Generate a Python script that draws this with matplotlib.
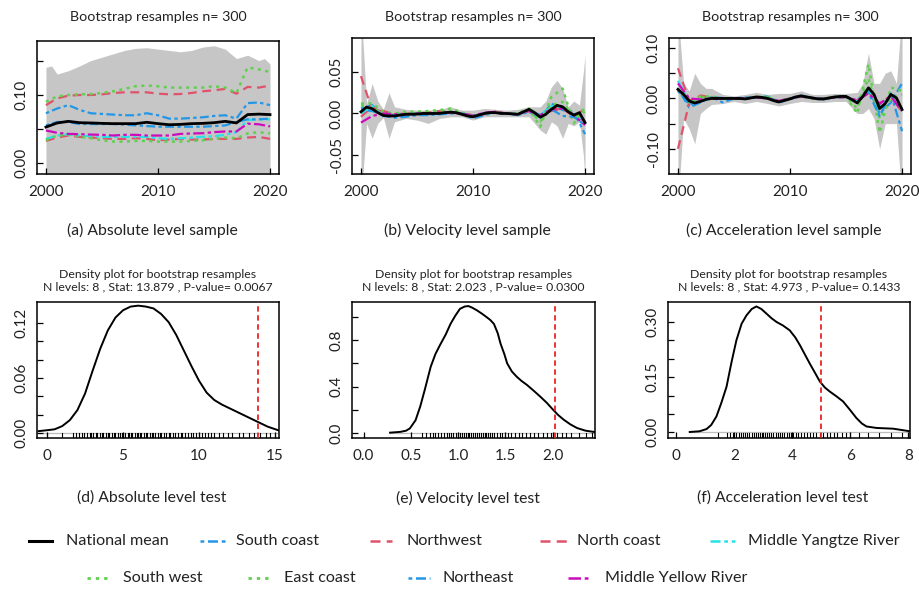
import matplotlib
matplotlib.use("Agg")
import matplotlib.pyplot as plt
from matplotlib.lines import Line2D
import matplotlib.transforms as mtrans

plt.rcParams['font.family'] = ['Lato', 'DejaVu Sans']

# ---------------- data ----------------
years = list(range(2000, 2021))
half_years = [2000 + 0.5 * i for i in range(41)]

# (a) absolute level
abs_national = [0.0525, 0.0586, 0.061, 0.059, 0.0586, 0.058, 0.0576, 0.0576, 0.0576, 0.0596, 0.0576, 0.056, 0.0565, 0.0576, 0.058, 0.059, 0.061, 0.0586, 0.071, 0.0717, 0.071]
abs_south_coast = [0.073, 0.080, 0.085, 0.078, 0.073, 0.072, 0.071, 0.070, 0.070, 0.073, 0.070, 0.065, 0.065, 0.066, 0.067, 0.069, 0.070, 0.065, 0.088, 0.089, 0.085]
abs_northwest = [0.085, 0.095, 0.099, 0.100, 0.100, 0.101, 0.103, 0.104, 0.104, 0.104, 0.102, 0.101, 0.1015, 0.103, 0.1055, 0.107, 0.109, 0.102, 0.112, 0.111, 0.114]
abs_north_coast = [0.032, 0.037, 0.040, 0.038, 0.037, 0.036, 0.035, 0.035, 0.036, 0.035, 0.033, 0.034, 0.035, 0.034, 0.034, 0.035, 0.035, 0.035, 0.037, 0.038, 0.035]
abs_mid_yangtze = [0.035, 0.040, 0.042, 0.040, 0.039, 0.038, 0.038, 0.038, 0.038, 0.038, 0.036, 0.035, 0.036, 0.037, 0.038, 0.039, 0.041, 0.045, 0.063, 0.064, 0.064]
abs_south_west = [0.090, 0.098, 0.100, 0.101, 0.1015, 0.103, 0.1055, 0.109, 0.113, 0.114, 0.113, 0.111, 0.111, 0.111, 0.111, 0.113, 0.111, 0.103, 0.141, 0.138, 0.134]
abs_east_coast = [0.033, 0.040, 0.041, 0.038, 0.036, 0.033, 0.031, 0.031, 0.032, 0.032, 0.031, 0.031, 0.031, 0.032, 0.033, 0.035, 0.037, 0.036, 0.043, 0.045, 0.043]
abs_northeast = [0.055, 0.060, 0.060, 0.057, 0.057, 0.057, 0.057, 0.056, 0.055, 0.054, 0.053, 0.053, 0.053, 0.053, 0.053, 0.054, 0.055, 0.060, 0.064, 0.064, 0.065]
abs_mid_yellow = [0.0475, 0.044, 0.0424, 0.042, 0.0414, 0.041, 0.040, 0.041, 0.041, 0.040, 0.040, 0.040, 0.0424, 0.043, 0.0434, 0.045, 0.046, 0.046, 0.0576, 0.0566, 0.0535]

abs_band_x = [2000, 2000.5, 2001, 2002, 2003, 2004, 2005, 2006, 2007, 2008, 2009, 2010, 2011, 2012, 2013, 2014, 2015, 2016, 2017, 2018, 2019, 2019.5, 2020]
abs_band_hi = [0.141, 0.143, 0.131, 0.136, 0.143, 0.151, 0.156, 0.161, 0.166, 0.169, 0.170, 0.168, 0.166, 0.164, 0.166, 0.171, 0.173, 0.168, 0.154, 0.159, 0.151, 0.154, 0.146]
abs_band_lo = [-0.05] * 23

# (b) velocity level (national mean on a half-year grid)
vel_national = [0.002, 0.0077, 0.0057, 0.001, -0.0024, -0.003, -0.003, -0.002, -0.001, -0.001, -0.0008, 0.0, 0.0, 0.0, 0.0, 0.001, 0.0015, 0.001, -0.001, -0.003, -0.004, -0.002, 0.0, 0.001, 0.001, 0.0, 0.0, -0.0005, -0.001, 0.002, 0.005, 0.001, -0.0045, -0.001, 0.005, 0.0098, 0.008, 0.002, -0.002, 0.001, -0.011]
vel_south_coast = [0.006, 0.010, -0.003, -0.005, -0.004, -0.002, -0.002, -0.001, 0.0, 0.0, -0.006, -0.002, 0.001, 0.0, -0.002, 0.002, -0.006, 0.012, 0.004, 0.002, -0.025]
vel_northwest = [0.045, 0.004, 0.003, -0.001, 0.0, 0.0, 0.001, 0.003, 0.001, 0.0, -0.002, -0.001, 0.002, 0.0, -0.001, 0.003, -0.002, 0.003, 0.006, -0.004, 0.006]
vel_north_coast = [-0.004, 0.008, 0.0, -0.002, 0.0, 0.0, 0.0, 0.001, 0.001, 0.0, -0.003, 0.0, 0.002, 0.0, -0.001, 0.004, -0.003, 0.007, 0.005, -0.001, -0.010]
vel_mid_yangtze = [0.0, 0.009, -0.003, -0.002, -0.001, 0.0, 0.0, 0.0, 0.001, 0.0, -0.003, 0.0, 0.001, 0.0, -0.001, 0.004, -0.002, 0.009, 0.008, 0.0, -0.010]
vel_south_west = [0.012, 0.012, 0.002, 0.0, 0.002, 0.002, 0.003, 0.004, 0.006, 0.001, -0.003, 0.0, 0.002, 0.0, 0.0, 0.006, -0.016, 0.020, 0.030, -0.012, 0.008]
vel_east_coast = [0.010, 0.006, 0.0, -0.001, 0.0, 0.0, 0.001, 0.002, 0.003, 0.0, -0.003, 0.0, 0.001, 0.0, -0.001, 0.004, -0.010, 0.010, 0.014, -0.004, 0.002]
vel_northeast = [0.004, 0.003, -0.002, -0.002, -0.001, 0.0, -0.001, 0.0, 0.001, 0.0, -0.003, 0.0, 0.001, 0.0, -0.001, 0.003, -0.002, 0.005, -0.003, -0.004, -0.014]
vel_mid_yellow = [-0.011, -0.003, 0.0, -0.001, -0.001, 0.0, 0.0, 0.001, 0.001, 0.0, -0.003, 0.001, 0.002, 0.0, -0.001, 0.003, -0.002, 0.005, 0.006, -0.002, -0.014]

band_x = [2000, 2000.15, 2000.5, 2001, 2001.5, 2002, 2002.5, 2003, 2004, 2005, 2006, 2007, 2008, 2009, 2010, 2011, 2012, 2013, 2014, 2015, 2016, 2016.5, 2017, 2017.5, 2018, 2018.5, 2019, 2019.5, 2019.85, 2020]
vel_band_hi = [0.095, 0.095, 0.012, 0.036, 0.015, 0.005, 0.025, 0.008, 0.005, 0.004, 0.004, 0.005, 0.008, 0.004, 0.004, 0.006, 0.005, 0.004, 0.005, 0.008, 0.008, 0.015, 0.032, 0.040, 0.030, 0.008, 0.015, 0.010, 0.050, 0.070]
vel_band_lo = [-0.08, -0.08, -0.012, -0.030, -0.012, -0.005, -0.030, -0.010, -0.006, -0.008, -0.012, -0.006, -0.004, -0.004, -0.008, -0.004, -0.004, -0.004, -0.004, -0.004, -0.020, -0.025, -0.010, -0.015, -0.030, -0.012, -0.015, -0.010, -0.050, -0.080]

# (c) acceleration level (national mean on a half-year grid)
acc_national = [0.018, 0.008, -0.005, -0.009, -0.006, -0.002, 0.0, 0.0, 0.0, 0.0, 0.0, 0.0, -0.001, 0.001, 0.003, 0.002, 0.0, -0.004, -0.007, -0.004, -0.001, 0.003, 0.005, 0.003, 0.001, -0.001, -0.001, 0.001, 0.003, 0.004, 0.004, -0.002, -0.009, 0.004, 0.021, 0.008, -0.020, -0.010, 0.008, 0.001, -0.022]
acc_south_coast = [0.020, -0.018, -0.008, 0.003, -0.008, 0.0, 0.002, 0.002, 0.004, -0.009, 0.0, 0.006, 0.0, -0.002, 0.003, 0.002, -0.004, 0.020, -0.030, -0.008, 0.030]
acc_northwest = [0.060, -0.004, 0.004, 0.0, 0.0, 0.0, -0.001, 0.002, 0.0, -0.005, 0.0, 0.004, 0.0, 0.0, 0.002, 0.003, -0.004, 0.012, -0.010, 0.004, -0.020]
acc_north_coast = [-0.100, -0.010, 0.006, 0.002, 0.0, 0.0, 0.0, 0.002, 0.0, -0.005, 0.0, 0.004, 0.0, 0.0, 0.002, 0.003, -0.005, 0.015, -0.012, 0.006, -0.028]
acc_mid_yangtze = [0.035, -0.006, -0.004, 0.0, 0.0, 0.0, -0.001, 0.003, 0.0, -0.006, 0.0, 0.005, 0.001, -0.001, 0.003, 0.004, -0.006, 0.018, -0.018, 0.006, -0.020]
acc_south_west = [0.020, -0.010, 0.004, 0.004, 0.0, 0.0, 0.0, 0.003, 0.003, -0.006, 0.0, 0.005, 0.0, 0.0, 0.002, 0.004, -0.030, 0.068, -0.068, 0.022, 0.015]
acc_east_coast = [0.016, -0.008, 0.002, 0.002, 0.0, 0.0, 0.0, 0.002, 0.002, -0.005, 0.0, 0.004, 0.0, 0.0, 0.002, 0.003, -0.020, 0.040, -0.040, 0.0, 0.008]
acc_northeast = [0.015, -0.012, -0.006, 0.002, 0.001, 0.0, -0.001, 0.002, 0.001, -0.006, 0.0, 0.004, 0.001, -0.001, 0.002, 0.003, -0.006, 0.012, -0.035, 0.010, -0.065]
acc_mid_yellow = [0.030, 0.0, -0.002, 0.0, 0.0, 0.0, 0.0, 0.002, 0.0, -0.005, 0.0, 0.004, 0.001, -0.001, 0.002, 0.003, -0.004, 0.010, -0.010, 0.004, -0.025]

acc_band_hi = [0.13, 0.13, 0.030, 0.015, 0.050, 0.030, 0.020, 0.020, 0.008, 0.005, 0.008, 0.012, 0.008, 0.010, 0.010, 0.015, 0.008, 0.008, 0.010, 0.010, 0.012, 0.030, 0.090, 0.030, 0.030, 0.050, 0.055, 0.030, 0.13, 0.13]
acc_band_lo = [-0.16, -0.16, -0.040, -0.060, -0.090, -0.030, -0.020, -0.012, -0.010, -0.006, -0.010, -0.006, -0.010, -0.015, -0.010, -0.006, -0.008, -0.008, -0.006, -0.006, -0.030, -0.030, -0.020, -0.040, -0.100, -0.050, -0.050, -0.050, -0.16, -0.16]

# density panels
dens_abs_x = [-0.55, 0, 0.5, 1, 1.5, 2, 2.5, 3, 3.5, 4, 4.5, 5, 5.5, 6, 6.5, 7, 7.5, 8, 8.5, 9, 9.5, 10, 10.5, 11, 11.5, 12, 12.5, 13, 13.5, 14, 14.5, 15.2]
dens_abs_y = [0.002, 0.003, 0.004, 0.0075, 0.014, 0.025, 0.043, 0.068, 0.092, 0.112, 0.126, 0.134, 0.138, 0.139, 0.138, 0.136, 0.130, 0.121, 0.107, 0.090, 0.073, 0.057, 0.044, 0.036, 0.031, 0.027, 0.023, 0.019, 0.015, 0.011, 0.007, 0.003]
rug_abs = [0.0, 1.0, 1.7, 1.9, 2.1, 2.3, 2.4, 2.6, 2.8, 2.9, 3.0, 3.2, 3.3, 3.5, 3.6, 3.7, 3.9, 4.0, 4.1, 4.3, 4.4, 4.5, 4.7, 4.8, 4.9, 5.0, 5.1, 5.3, 5.4, 5.5, 5.6, 5.8, 5.9, 6.0, 6.1, 6.2, 6.4, 6.5, 6.6, 6.8, 6.9, 7.0, 7.1, 7.3, 7.4, 7.5, 7.7, 7.8, 8.0, 8.1, 8.3, 8.4, 8.6, 8.8, 8.9, 9.1, 9.3, 9.5, 9.6, 9.8, 10.0, 10.2, 10.4, 10.6, 10.8, 11.0, 11.3, 11.6, 11.9, 12.2, 12.6, 12.9, 13.3, 13.6, 14.0, 14.4, 14.7, 15.0]
stat_abs = 13.879

dens_vel_x = [0.28, 0.39, 0.45, 0.49, 0.55, 0.60, 0.65, 0.71, 0.76, 0.81, 0.87, 0.92, 0.97, 1.02, 1.07, 1.11, 1.15, 1.20, 1.25, 1.30, 1.34, 1.38, 1.42, 1.45, 1.49, 1.52, 1.57, 1.62, 1.67, 1.73, 1.80, 1.87, 1.94, 2.00, 2.06, 2.12, 2.19, 2.26, 2.35, 2.45]
dens_vel_y = [0.003, 0.010, 0.020, 0.040, 0.110, 0.230, 0.380, 0.570, 0.680, 0.760, 0.850, 0.940, 1.010, 1.070, 1.090, 1.094, 1.080, 1.057, 1.030, 1.000, 0.975, 0.940, 0.860, 0.770, 0.680, 0.600, 0.530, 0.486, 0.450, 0.414, 0.365, 0.314, 0.260, 0.206, 0.155, 0.114, 0.074, 0.043, 0.020, 0.008]
rug_vel = [0.62, 0.66, 0.70, 0.73, 0.76, 0.79, 0.82, 0.85, 0.88, 0.90, 0.93, 0.95, 0.98, 1.00, 1.02, 1.04, 1.06, 1.08, 1.10, 1.12, 1.14, 1.16, 1.18, 1.20, 1.22, 1.24, 1.26, 1.28, 1.30, 1.32, 1.34, 1.36, 1.38, 1.41, 1.44, 1.47, 1.50, 1.53, 1.56, 1.60, 1.64, 1.68, 1.72, 1.76, 1.80, 1.85, 1.90, 1.94, 1.98, 2.05, 2.10, 2.14, 2.20, 2.28, 2.35, 2.42]
stat_vel = 2.023

dens_acc_x = [0.46, 0.80, 1.04, 1.20, 1.38, 1.55, 1.73, 1.90, 2.07, 2.25, 2.42, 2.60, 2.76, 2.93, 3.10, 3.28, 3.45, 3.68, 3.91, 4.10, 4.26, 4.43, 4.60, 4.78, 4.95, 5.12, 5.29, 5.52, 5.75, 5.98, 6.21, 6.40, 6.56, 6.90, 7.48, 8.05]
dens_acc_y = [0.001, 0.003, 0.009, 0.020, 0.043, 0.080, 0.124, 0.190, 0.250, 0.295, 0.318, 0.335, 0.342, 0.335, 0.323, 0.310, 0.300, 0.290, 0.277, 0.258, 0.237, 0.212, 0.187, 0.162, 0.138, 0.122, 0.111, 0.098, 0.084, 0.062, 0.039, 0.024, 0.016, 0.012, 0.010, 0.003]
rug_acc = [1.45, 1.75, 1.85, 1.95, 2.05, 2.15, 2.22, 2.30, 2.38, 2.45, 2.52, 2.60, 2.67, 2.74, 2.80, 2.87, 2.94, 3.00, 3.07, 3.14, 3.20, 3.28, 3.35, 3.42, 3.50, 3.58, 3.65, 3.72, 3.80, 3.88, 3.95, 4.03, 4.12, 4.20, 4.30, 4.40, 4.50, 4.60, 4.70, 4.82, 4.95, 5.05, 5.18, 5.30, 5.45, 5.55, 5.70, 5.85, 6.0, 6.3, 6.6, 7.0, 7.4, 7.8]
stat_acc = 4.973

region_names = ["National mean", "South coast", "Northwest", "North coast", "Middle Yangtze River",
                "South west", "East coast", "Northeast", "Middle Yellow River"]
test_titles = ["N levels: 8 , Stat: 13.879 , P-value= 0.0067",
               "N levels: 8 , Stat: 2.023 , P-value= 0.0300",
               "N levels: 8 , Stat: 4.973 , P-value= 0.1433"]
captions_top = ["(a) Absolute level sample", "(b) Velocity level sample", "(c) Acceleration level sample"]
captions_bot = ["(d) Absolute level test", "(e) Velocity level test", "(f) Acceleration level test"]

# ---------------- styles ----------------
BLUE, RED, GREEN, CYAN, MAG = "#2297E6", "#DF536B", "#61D04F", "#28E2E5", "#CD0BBC"
styles = {
    "National mean": dict(color="black", ls="-", lw=2.0),
    "South coast": dict(color=BLUE, ls=(0, (1.5, 1.5, 4, 1.5)), lw=1.6),
    "Northwest": dict(color=RED, ls=(0, (4, 2.5)), lw=1.6),
    "North coast": dict(color=RED, ls=(0, (4, 2.5)), lw=1.6),
    "Middle Yangtze River": dict(color=CYAN, ls=(0, (4, 1.5, 1.5, 1.5)), lw=1.6),
    "South west": dict(color=GREEN, ls=(0, (1.2, 1.8)), lw=1.8),
    "East coast": dict(color=GREEN, ls=(0, (1.2, 1.8)), lw=1.8),
    "Northeast": dict(color=BLUE, ls=(0, (1.5, 1.5, 4, 1.5)), lw=1.6),
    "Middle Yellow River": dict(color=MAG, ls=(0, (5, 1.5, 1.5, 1.5)), lw=1.6),
}

TXT = "#222222"
fig = plt.figure(figsize=(9.19, 5.94), dpi=100)
W, H = 919, 594

def add_ax(l, t, r, b):
    return fig.add_axes([l / W, 1 - b / H, (r - l) / W, (b - t) / H])

def style_ax(ax):
    for s in ax.spines.values():
        s.set_linewidth(1.1)
    ax.tick_params(direction="in", length=4, width=0.9, labelsize=11, colors="black",
                   labelcolor=TXT, pad=8)
    ax.tick_params(axis="y", pad=6)

top_axes = [add_ax(37, 41, 279, 174), add_ax(352, 38, 594, 174), add_ax(669, 38, 911, 174)]
bot_axes = [add_ax(37, 302, 279, 438), add_ax(352, 302, 595, 438), add_ax(668, 302, 910, 438)]

series_sets = [
    [abs_national, abs_south_coast, abs_northwest, abs_north_coast, abs_mid_yangtze,
     abs_south_west, abs_east_coast, abs_northeast, abs_mid_yellow],
    [vel_national, vel_south_coast, vel_northwest, vel_north_coast, vel_mid_yangtze,
     vel_south_west, vel_east_coast, vel_northeast, vel_mid_yellow],
    [acc_national, acc_south_coast, acc_northwest, acc_north_coast, acc_mid_yangtze,
     acc_south_west, acc_east_coast, acc_northeast, acc_mid_yellow],
]
national_x = [years, half_years, half_years]
bands = [(abs_band_x, abs_band_lo, abs_band_hi), (band_x, vel_band_lo, vel_band_hi), (band_x, acc_band_lo, acc_band_hi)]
ylims = [(-0.017, 0.18), (-0.073, 0.091), (-0.15, 0.12)]
yticks = [[0.0, 0.05, 0.10, 0.15], [-0.05, 0.0, 0.05], [-0.10, -0.05, 0.0, 0.05, 0.10]]
ylabels = [["0.00", "", "0.10", ""], ["-0.05", "0.00", "0.05"], ["-0.10", "", "0.00", "", "0.10"]]

for ax, sers, nx, band, yl, yt, ylab, cap in zip(top_axes, series_sets, national_x, bands, ylims, yticks, ylabels, captions_top):
    bx, blo, bhi = band
    ax.fill_between(bx, blo, bhi, color="#c6c6c6", lw=0, zorder=1)
    for name, s in list(zip(region_names, sers))[1:]:
        ax.plot(years, s, zorder=3, **styles[name])
    ax.plot(nx, sers[0], zorder=4, **styles["National mean"])
    ax.set_xlim(2000 - 0.8, 2020 + 0.8)
    ax.set_ylim(*yl)
    ax.set_xticks([2000, 2010, 2020])
    ax.set_yticks(yt)
    ax.set_yticklabels(ylab)
    style_ax(ax)
    for lbl in ax.get_yticklabels():
        lbl.set_rotation(90)
        lbl.set_va("center")
    pos = ax.get_position()
    cx = pos.x0 + pos.width / 2
    fig.text(cx, 1 - 17 / H, "Bootstrap resamples n= 300", ha="center", va="center", fontsize=10.3, color=TXT)
    fig.text(cx - 6 / W, 1 - 230 / H, cap, ha="center", va="center", fontsize=11.3, color=TXT)

dens_sets = [(dens_abs_x, dens_abs_y, rug_abs, stat_abs), (dens_vel_x, dens_vel_y, rug_vel, stat_vel),
             (dens_acc_x, dens_acc_y, rug_acc, stat_acc)]
dxlims = [(-0.66, 15.26), (-0.123, 2.45), (-0.29, 8.06)]
dylims = [(-0.0055, 0.143), (-0.043, 1.129), (-0.0153, 0.354)]
dxticks = [([0, 5, 10, 15], ["0", "5", "10", "15"]),
           ([0.0, 0.5, 1.0, 1.5, 2.0], ["0.0", "0.5", "1.0", "1.5", "2.0"]),
           ([0, 2, 4, 6, 8], ["0", "2", "4", "6", "8"])]
dyticks = [([0, 0.02, 0.04, 0.06, 0.08, 0.10, 0.12], ["0.00", "", "", "0.06", "", "", "0.12"]),
           ([0, 0.2, 0.4, 0.6, 0.8, 1.0], ["0.0", "", "0.4", "", "0.8", ""]),
           ([0, 0.05, 0.10, 0.15, 0.20, 0.25, 0.30], ["0.00", "", "", "0.15", "", "", "0.30"])]

for ax, (dx, dy, rug, stat), xl, yl, xt, yt, tt, cap in zip(bot_axes, dens_sets, dxlims, dylims, dxticks, dyticks, test_titles, captions_bot):
    ax.plot([dx[0], dx[-1]], [0, 0], color="#bdbdbd", lw=0.9, zorder=1)
    ax.plot(dx, dy, color="black", lw=1.4, zorder=3)
    trans = mtrans.blended_transform_factory(ax.transData, ax.transAxes)
    for r in rug:
        ax.plot([r, r], [0, 0.035], color="black", lw=0.8, transform=trans, zorder=2)
    ax.axvline(stat, color="#ee2222", ls=(0, (3, 2)), lw=1.3, zorder=4)
    ax.set_xlim(*xl)
    ax.set_ylim(*yl)
    ax.set_xticks(xt[0])
    ax.set_xticklabels(xt[1])
    ax.set_yticks(yt[0])
    ax.set_yticklabels(yt[1])
    style_ax(ax)
    for lbl in ax.get_yticklabels():
        lbl.set_rotation(90)
        lbl.set_va("center")
    pos = ax.get_position()
    cx = pos.x0 + pos.width / 2
    fig.text(cx, 1 - 274 / H, "Density plot for bootstrap resamples", ha="center", va="center", fontsize=8.8, color=TXT)
    fig.text(cx, 1 - 287 / H, tt, ha="center", va="center", fontsize=8.8, color=TXT)
    fig.text(cx - 6 / W, 1 - 498 / H, cap, ha="center", va="center", fontsize=11.3, color=TXT)

# ---------------- legend ----------------
legend_pos = [(29, 52, 66, 541), (200, 225, 236, 541), (370, 392, 407, 541), (540, 567, 577, 541),
              (710, 735, 748, 541), (87, 108, 123, 578), (248, 270, 284, 578), (408, 430, 443, 578),
              (568, 590, 605, 578)]
for name, (x0, x1, tx, y) in zip(region_names, legend_pos):
    st = styles[name]
    fig.add_artist(Line2D([x0 / W, x1 / W], [1 - y / H, 1 - y / H], transform=fig.transFigure,
                          color=st["color"], ls=st["ls"], lw=st["lw"] + 0.2))
    fig.text(tx / W, 1 - y / H, name, ha="left", va="center", fontsize=11.6, color=TXT)

fig.savefig("out.png", dpi=100)
